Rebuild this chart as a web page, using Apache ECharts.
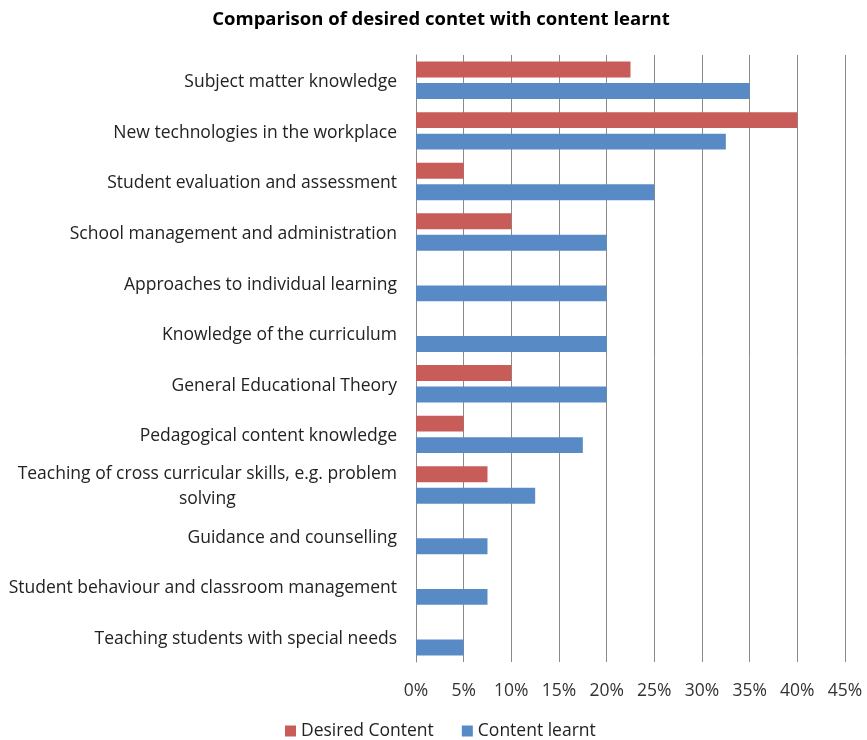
<!DOCTYPE html>
<html>
<head>
<meta charset="utf-8">
<script src="https://cdn.jsdelivr.net/npm/echarts@6/dist/echarts.min.js"></script>
<style>html,body{margin:0;padding:0;background:#fff}#c{width:867px;height:740px}</style>
</head>
<body>
<div id="c"></div>
<script>
const categories = [
  'Subject matter knowledge',
  'New technologies in the workplace',
  'Student evaluation and assessment',
  'School management and administration',
  'Approaches to individual learning',
  'Knowledge of the curriculum',
  'General Educational Theory',
  'Pedagogical content knowledge',
  'Teaching of cross curricular skills, e.g. problem\nsolving',
  'Guidance and counselling',
  'Student behaviour and classroom management',
  'Teaching students with special needs'
];
const desiredContent = [22.5, 40, 5, 10, 0, 0, 10, 5, 7.5, 0, 0, 0];
const contentLearnt = [35, 32.5, 25, 20, 20, 20, 20, 17.5, 12.5, 7.5, 7.5, 5];
const xTicks = [0, 5, 10, 15, 20, 25, 30, 35, 40, 45];

const chart = echarts.init(document.getElementById('c'));
const font = 'Open Sans';
chart.setOption({
  animation: false,
  title: {
    text: 'Comparison of desired contet with content learnt',
    left: 436, top: 5, textAlign: 'center',
    textStyle: {fontFamily: font, fontSize: 18.5, fontWeight: 'bold', color: '#000'}
  },
  legend: {
    top: 717, left: 280,
    itemWidth: 11, itemHeight: 11, itemGap: 28,
    icon: 'rect',
    textStyle: {fontFamily: font, fontSize: 17.5, color: '#222'},
    data: ['Desired Content', 'Content learnt']
  },
  grid: {left: 416, right: 22, top: 55, bottom: 78, containLabel: false},
  xAxis: {
    type: 'value', min: xTicks[0], max: xTicks[xTicks.length - 1], interval: 5,
    axisLine: {show: false}, axisTick: {show: false},
    splitLine: {lineStyle: {color: '#8a8a8a', width: 1}},
    axisLabel: {formatter: v => v + '%', margin: 20, fontFamily: font, fontSize: 17.5, color: '#333'}
  },
  yAxis: {
    type: 'category', data: categories, inverse: true,
    axisLine: {lineStyle: {color: '#8a8a8a'}}, axisTick: {show: false},
    axisLabel: {
      margin: 19,
      formatter: v => v.split('\n').map(s => '{a|' + s + '}').join('\n'),
      rich: {a: {align: 'center', fontFamily: font, fontSize: 17.5, color: '#222', lineHeight: 25, padding: [4, 0, 0, 0]}}
    }
  },
  series: [
    {name: 'Desired Content', type: 'bar', data: desiredContent, barGap: '35%', barCategoryGap: '26%',
     itemStyle: {color: '#C85C59'}},
    {name: 'Content learnt', type: 'bar', data: contentLearnt, barGap: '35%', barCategoryGap: '26%',
     itemStyle: {color: '#588BC5'}}
  ]
});
</script>
</body>
</html>
